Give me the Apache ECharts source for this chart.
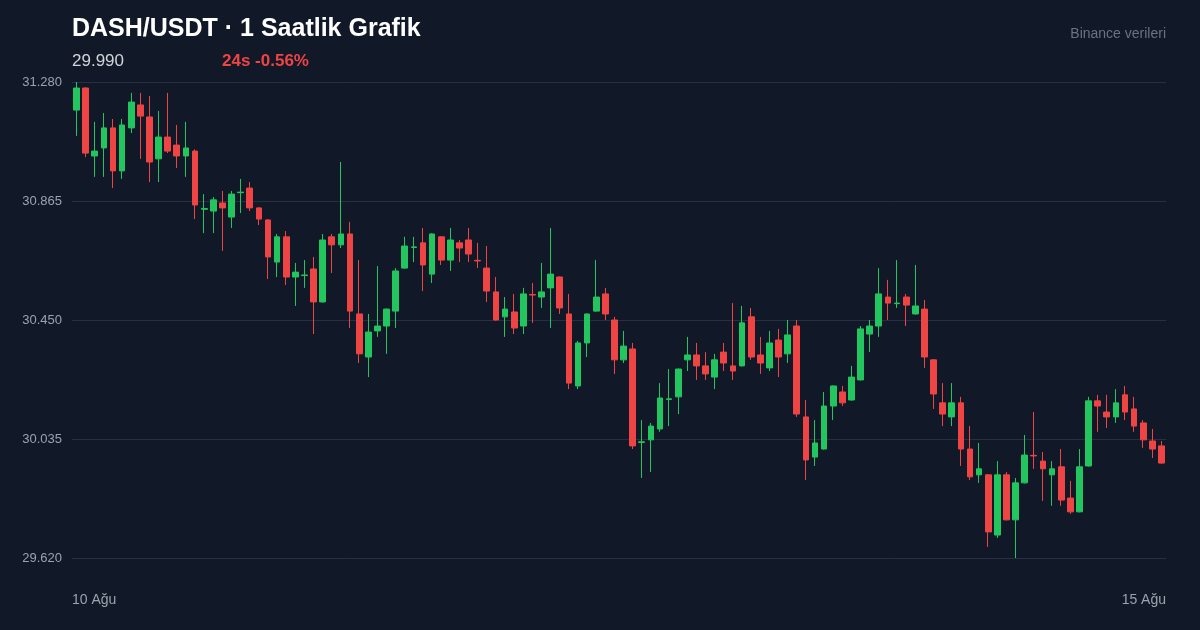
<!DOCTYPE html>
<html>
<head>
<meta charset="utf-8">
<script src="https://cdn.jsdelivr.net/npm/echarts@6/dist/echarts.min.js"></script>
<style>
html,body{margin:0;padding:0;background:#111827;}
#chart{width:1200px;height:630px;}
</style>
</head>
<body>
<div id="chart"></div>
<script>
// DASH/USDT saatlik mumlar: [acilis, kapanis, en dusuk, en yuksek]
var candles1 = [
  [31.182,31.259,31.092,31.280],[31.259,31.032,31.018,31.262],[31.022,31.039,30.949,31.141],[31.050,31.120,30.949,31.172],
  [31.120,30.970,30.910,31.151],[30.970,31.130,30.942,31.151],[31.120,31.210,31.102,31.242],[31.200,31.161,31.012,31.242],
  [31.158,31.001,30.931,31.231],[31.012,31.088,30.931,31.179],[31.088,31.039,31.032,31.242],[31.060,31.022,30.980,31.130],
  [31.022,31.050,30.949,31.141],[31.039,30.851,30.802,31.045],[30.836,30.839,30.753,30.889],[30.830,30.869,30.753,30.879],
  [30.858,30.841,30.691,30.900],[30.809,30.889,30.771,30.900],[30.894,30.896,30.823,30.942],[30.910,30.841,30.830,30.931],
  [30.841,30.802,30.781,30.843],[30.799,30.670,30.593,30.802],[30.652,30.740,30.600,30.750],[30.740,30.600,30.572,30.760],
  [30.600,30.617,30.499,30.649],[30.605,30.607,30.562,30.659],[30.628,30.513,30.401,30.670],[30.513,30.729,30.510,30.750],
  [30.740,30.712,30.614,30.750],[30.712,30.750,30.701,31.001]
];
var candles2 = [
  [30.750,30.481,30.422,30.792],[30.471,30.332,30.300,30.659],[30.321,30.408,30.251,30.471],[30.412,30.429,30.391,30.638],
  [30.429,30.488,30.332,30.490],[30.481,30.621,30.422,30.631],[30.631,30.708,30.629,30.740],[30.703,30.705,30.652,30.740],
  [30.719,30.642,30.551,30.771],[30.610,30.750,30.579,30.752],[30.740,30.659,30.642,30.742],[30.659,30.729,30.621,30.771],
  [30.719,30.701,30.652,30.729],[30.729,30.680,30.652,30.771],[30.658,30.656,30.631,30.719],[30.631,30.551,30.513,30.708],
  [30.548,30.450,30.448,30.600],[30.461,30.488,30.391,30.530],[30.478,30.422,30.401,30.541],[30.429,30.541,30.401,30.562],
  [30.539,30.537,30.440,30.579],[30.530,30.548,30.492,30.649],[30.562,30.610,30.422,30.771],[30.600,30.492,30.471,30.602],
  [30.471,30.230,30.209,30.541],[30.220,30.370,30.209,30.377],[30.370,30.471,30.321,30.473],[30.481,30.530,30.479,30.659],
  [30.541,30.471,30.450,30.562],[30.450,30.311,30.262,30.461]
];
var candles3 = [
  [30.311,30.359,30.300,30.412],[30.349,30.011,30.000,30.370],[30.023,30.025,29.899,30.101],[30.032,30.080,29.920,30.091],
  [30.070,30.178,30.060,30.230],[30.173,30.175,30.080,30.279],[30.182,30.279,30.122,30.281],[30.311,30.328,30.272,30.391],
  [30.328,30.290,30.241,30.370],[30.290,30.262,30.241,30.338],[30.251,30.311,30.209,30.332],[30.338,30.300,30.272,30.370],
  [30.290,30.272,30.241,30.509],[30.290,30.440,30.288,30.499],[30.461,30.321,30.311,30.492],[30.328,30.300,30.262,30.391],
  [30.283,30.370,30.272,30.412],[30.380,30.321,30.251,30.419],[30.332,30.398,30.300,30.450],[30.429,30.122,30.112,30.450],
  [30.112,29.962,29.892,30.171],[29.972,30.021,29.941,30.101],[30.000,30.150,29.998,30.199],[30.150,30.220,30.101,30.222],
  [30.199,30.161,30.150,30.220],[30.171,30.251,30.169,30.290],[30.241,30.419,30.239,30.429],[30.401,30.429,30.338,30.450],
  [30.429,30.541,30.391,30.631],[30.530,30.509,30.450,30.590]
];
var candles4 = [
  [30.507,30.509,30.492,30.659],[30.530,30.502,30.429,30.541],[30.471,30.499,30.469,30.642],[30.488,30.321,30.283,30.520],
  [30.311,30.192,30.140,30.313],[30.161,30.122,30.080,30.230],[30.112,30.161,30.080,30.230],[30.161,30.000,29.941,30.182],
  [30.000,29.903,29.892,30.080],[29.910,29.931,29.882,30.021],[29.910,29.711,29.659,29.912],[29.700,29.910,29.690,29.958],
  [29.910,29.753,29.751,29.920],[29.753,29.882,29.620,29.899],[29.882,29.979,29.880,30.049],[29.978,29.976,29.931,30.129],
  [29.958,29.931,29.819,29.990],[29.910,29.931,29.802,29.958],[29.938,29.822,29.802,30.000],[29.829,29.781,29.774,29.889],
  [29.781,29.938,29.779,30.000],[29.941,30.168,29.939,30.182],[30.168,30.150,30.060,30.189],[30.129,30.112,30.073,30.189],
  [30.112,30.161,30.091,30.209],[30.189,30.129,30.101,30.220],[30.140,30.080,30.060,30.182],[30.091,30.032,30.004,30.101],
  [30.028,30.000,29.969,30.070],[30.011,29.951,29.949,30.028]
];
var candles = candles1.concat(candles2, candles3, candles4);
var hours = candles.map(function (c, i) { return i; });
var yMin = 29.620, yMax = 31.280, yStep = 0.415;
var dateLabels = ['10 Ağu', '15 Ağu'];

var FONT = '"Liberation Sans", Arial, sans-serif';
var chart = echarts.init(document.getElementById('chart'));
var option = {
    backgroundColor: '#111827',
    animation: false,
    textStyle: { fontFamily: FONT },
    grid: { left: 72, right: 34, top: 82, bottom: 72 },
    xAxis: {
        type: 'category',
        data: hours,
        boundaryGap: true,
        axisLine: { show: false },
        axisTick: { show: false },
        axisLabel: { show: false },
        splitLine: { show: false }
    },
    yAxis: {
        type: 'value',
        min: yMin,
        max: yMax,
        interval: yStep,
        axisLine: { show: false },
        axisTick: { show: false },
        axisLabel: {
            color: '#9ca3af', fontSize: 13, margin: 10,
            formatter: function (v) { return v.toFixed(3); }
        },
        splitLine: { lineStyle: { color: '#263040', width: 1 } }
    },
    series: [{
        type: 'candlestick',
        data: candles,
        barWidth: '68%',
        itemStyle: {
            color: '#22c55e', color0: '#ef4444',
            borderColor: '#22c55e', borderColor0: '#ef4444',
            borderWidth: 1
        }
    }],
    graphic: [
        { type: 'text', left: 72, top: 17, style: { text: 'DASH/USDT · 1 Saatlik Grafik', fill: '#ffffff', font: 'bold 25px ' + FONT } },
        { type: 'text', left: 72, top: 53, style: { text: '29.990', fill: '#d1d5db', font: '17px ' + FONT } },
        { type: 'text', left: 222, top: 53, style: { text: '24s -0.56%', fill: '#ef4444', font: 'bold 17px ' + FONT } },
        { type: 'text', right: 34, top: 27, style: { text: 'Binance verileri', fill: '#6b7280', font: '14px ' + FONT } },
        { type: 'text', left: 72, top: 593, style: { text: dateLabels[0], fill: '#9ca3af', font: '14px ' + FONT } },
        { type: 'text', right: 34, top: 593, style: { text: dateLabels[1], fill: '#9ca3af', font: '14px ' + FONT } }
    ]
};
chart.setOption(option);
</script>
</body>
</html>
